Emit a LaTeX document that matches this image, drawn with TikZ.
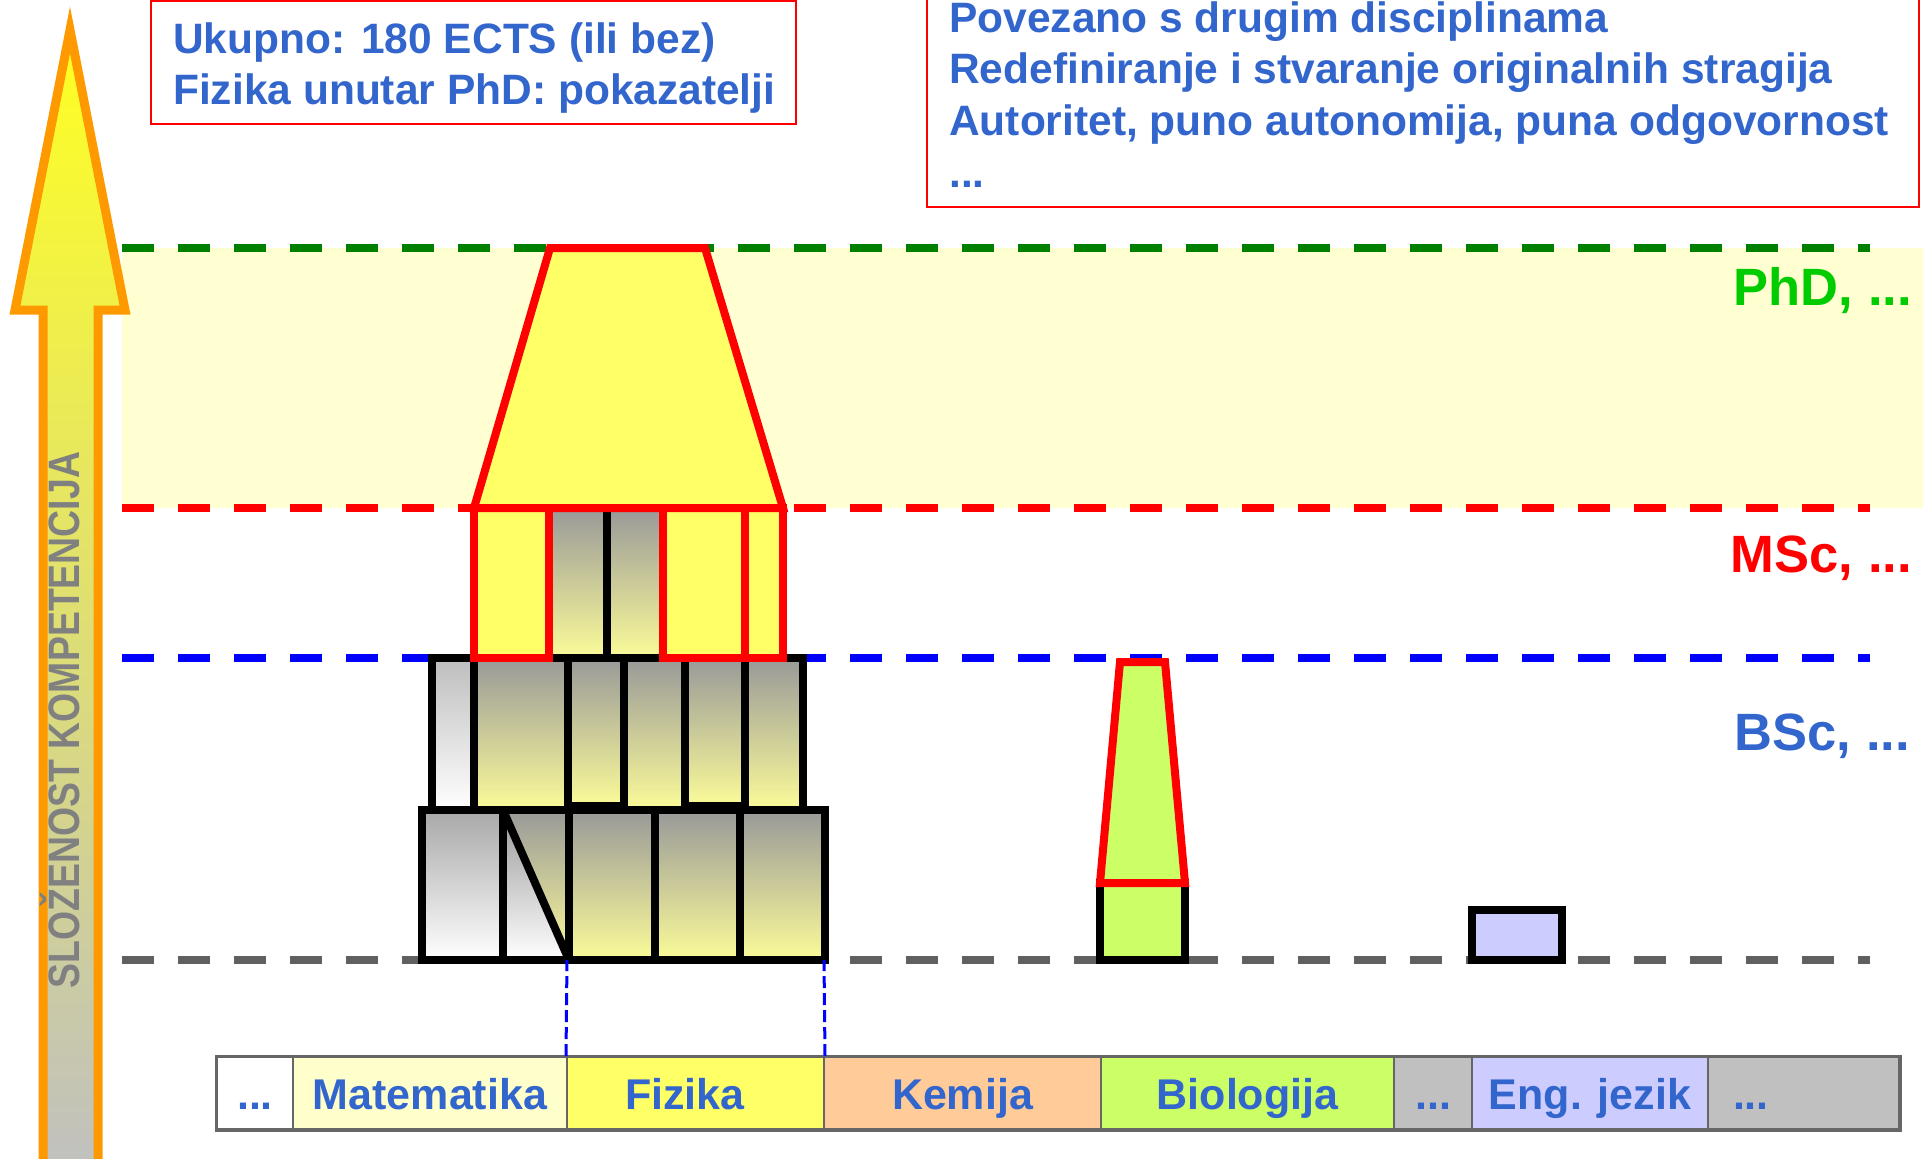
\documentclass[tikz,border=0pt]{standalone}
\usepackage{fontspec}
\setmainfont{Liberation Sans}
\newfontfamily\narrowfont{Liberation Sans}[FakeStretch=0.85]
\usepackage{xcolor}
\usepackage{tikz}
\usetikzlibrary{positioning}

\definecolor{txtblue}{HTML}{3366CC}
\definecolor{phdgreen}{HTML}{00CC00}
\definecolor{lgreen}{HTML}{008000}
\definecolor{lgray}{HTML}{606060}
\definecolor{cellline}{HTML}{666666}
\definecolor{band}{HTML}{FFFFD2}
\definecolor{phys}{HTML}{FFFF66}
\definecolor{math}{HTML}{FFFFCC}
\definecolor{chem}{HTML}{FFCC99}
\definecolor{bio}{HTML}{CCFF66}
\definecolor{lang}{HTML}{CCCCFF}
\definecolor{other}{HTML}{C0C0C0}
\definecolor{gtop}{HTML}{999999}
\definecolor{gbot}{HTML}{FBFB99}
\definecolor{wtop}{HTML}{A8A8A8}
\definecolor{arrowline}{HTML}{FF9900}
\definecolor{arrowtop}{HTML}{FFFF22}

\begin{document}
\begin{tikzpicture}[x=1pt,y=-1pt,
    infobox/.style={draw=red,line width=2},
    info/.style={anchor=base west,inner sep=0,text=txtblue,font=\fontsize{42.5}{51}\selectfont\bfseries},
    lvl/.style={line width=8,dash pattern=on 32pt off 24pt},
    lvllabel/.style={anchor=base east,inner sep=0,font=\fontsize{52.5}{60}\selectfont\bfseries},
    blk/.style={draw=black,line width=8,line join=miter},
    redblk/.style={draw=red,line width=8,fill=phys,line join=miter},
    grad/.style={blk,top color=gtop,bottom color=gbot},
    wgrad/.style={blk,top color=wtop,bottom color=white},
    cell/.style={draw=cellline,line width=2,minimum height=72pt,inner sep=0,text height=32pt,text depth=0pt,text=txtblue,font=\fontsize{43}{51}\selectfont\bfseries},
    link/.style={draw=blue,line width=3,dash pattern=on 12pt off 5pt}]

    \useasboundingbox (0,0) rectangle (1923,1159);

    % Levels
    \fill[band] (122,248) rectangle (1923,508);
    \draw[lvl,draw=lgreen] (122,248) -- (1870,248);
    \draw[lvl,draw=red] (122,508) -- (1870,508);
    \draw[lvl,draw=blue] (122,658) -- (1870,658);
    \draw[lvl,draw=lgray] (122,960) -- (1870,960);
    \node [lvllabel,text=phdgreen] at (1912,305) (phd) {PhD, ...};
    \node [lvllabel,text=red] at (1912,572) (msc) {MSc, ...};
    \node [lvllabel,text=txtblue] at (1910,750) (bsc) {BSc, ...};

    % The axis arrow
    \draw[arrowline,line width=9,line join=miter,top color=arrowtop,bottom color=other]
    (70,30) -- (125,310) -- (98,310) -- (98,1175) -- (43,1175) -- (43,310) -- (15,310) -- cycle;
    \node [rotate=90,text=gray,inner sep=0,font=\narrowfont\fontsize{44}{50}\selectfont\bfseries] at (60,720) (axis) {SLOŽENOST KOMPETENCIJA};

    % Info boxes
    \draw[infobox] (151,1) rectangle (796,124);
    \node [info] at (173,53) (ukupno) {Ukupno: 180 ECTS (ili bez)};
    \node [info] at (173,104) (fizphd) {Fizika unutar PhD: pokazatelji};
    \draw[infobox] (927,-10) rectangle (1919,207);
    \node [info] at (949,32) (povez) {Povezano s drugim disciplinama};
    \node [info] at (949,83) (redef) {Redefiniranje i stvaranje originalnih stragija};
    \node [info] at (949,135) (autor) {Autoritet, puno autonomija, puna odgovornost};
    \node [info] at (949,187) (more) {...};

    % Physics stack, bottom row
    \draw[wgrad] (422,810) rectangle (503,960);
    \shade[top color=gtop,bottom color=white] (503,810) -- (503,960) -- (569,960) -- cycle;
    \shade[top color=gtop,bottom color=gbot] (503,810) -- (569,810) -- (569,960) -- cycle;
    \draw[blk] (503,810) rectangle (569,960);
    \draw[blk] (503,810) -- (569,960);
    \draw[grad] (569,810) rectangle (655,960);
    \draw[grad] (655,810) rectangle (740,960);
    \draw[grad] (740,810) rectangle (825,960);

    % Physics stack, BSc row
    \draw[wgrad,top color=wtop!75!white] (432,658) rectangle (474,810);
    \draw[grad] (474,658) rectangle (568,810);
    \draw[grad] (568,658) rectangle (624,806);
    \draw[grad] (624,658) rectangle (685,810);
    \draw[grad] (685,658) rectangle (745,806);
    \draw[grad] (745,658) rectangle (803,810);

    % Physics stack, MSc row and PhD
    \draw[grad] (549,508) rectangle (607,658);
    \draw[grad] (607,508) rectangle (663,658);
    \draw[redblk] (474,508) rectangle (549,658);
    \draw[redblk] (663,508) rectangle (745,658);
    \draw[redblk] (745,508) rectangle (783,658);
    \draw[redblk] (474,508) -- (550,248) -- (705,248) -- (783,508) -- cycle;

    % Biology and language
    \draw[blk,fill=bio] (1100,883) rectangle (1185,960);
    \draw[redblk,fill=bio] (1100,883) -- (1120,662) -- (1165,662) -- (1185,883) -- cycle;
    \draw[blk,fill=lang] (1472,910) rectangle (1562,960);

    % Subject bar
    \node [cell,fill=white,minimum width=76pt] at (255,1093) (dots1) {...};
    \node [cell,fill=math,minimum width=274pt] at (430,1093) (mat) {Matematika};
    \node [cell,fill=phys,minimum width=257pt,inner xsep=58pt,text width=141pt,align=left] at (695.5,1093) (fiz) {Fizika};
    \node [cell,fill=chem,minimum width=277pt] at (962.5,1093) (kem) {Kemija};
    \node [cell,fill=bio,minimum width=293pt] at (1247.5,1093) (biol) {Biologija};
    \node [cell,fill=other,minimum width=78pt] at (1433,1093) (dots2) {...};
    \node [cell,fill=lang,minimum width=236pt] at (1590,1093) (eng) {Eng. jezik};
    \node [cell,fill=other,minimum width=191pt,inner xsep=25pt,text width=141pt,align=left] at (1803.5,1093) (dots3) {...};
    \draw[cellline,line width=3] (dots1.north west) rectangle (dots3.south east);

    % Links from the bar
    \coordinate (fizL) at (567,960);
    \coordinate (fizR) at (824,960);
    \path[link]
    (fiz.north west) edge (fizL)
    (fiz.north east) edge (fizR);
\end{tikzpicture}
\end{document}
